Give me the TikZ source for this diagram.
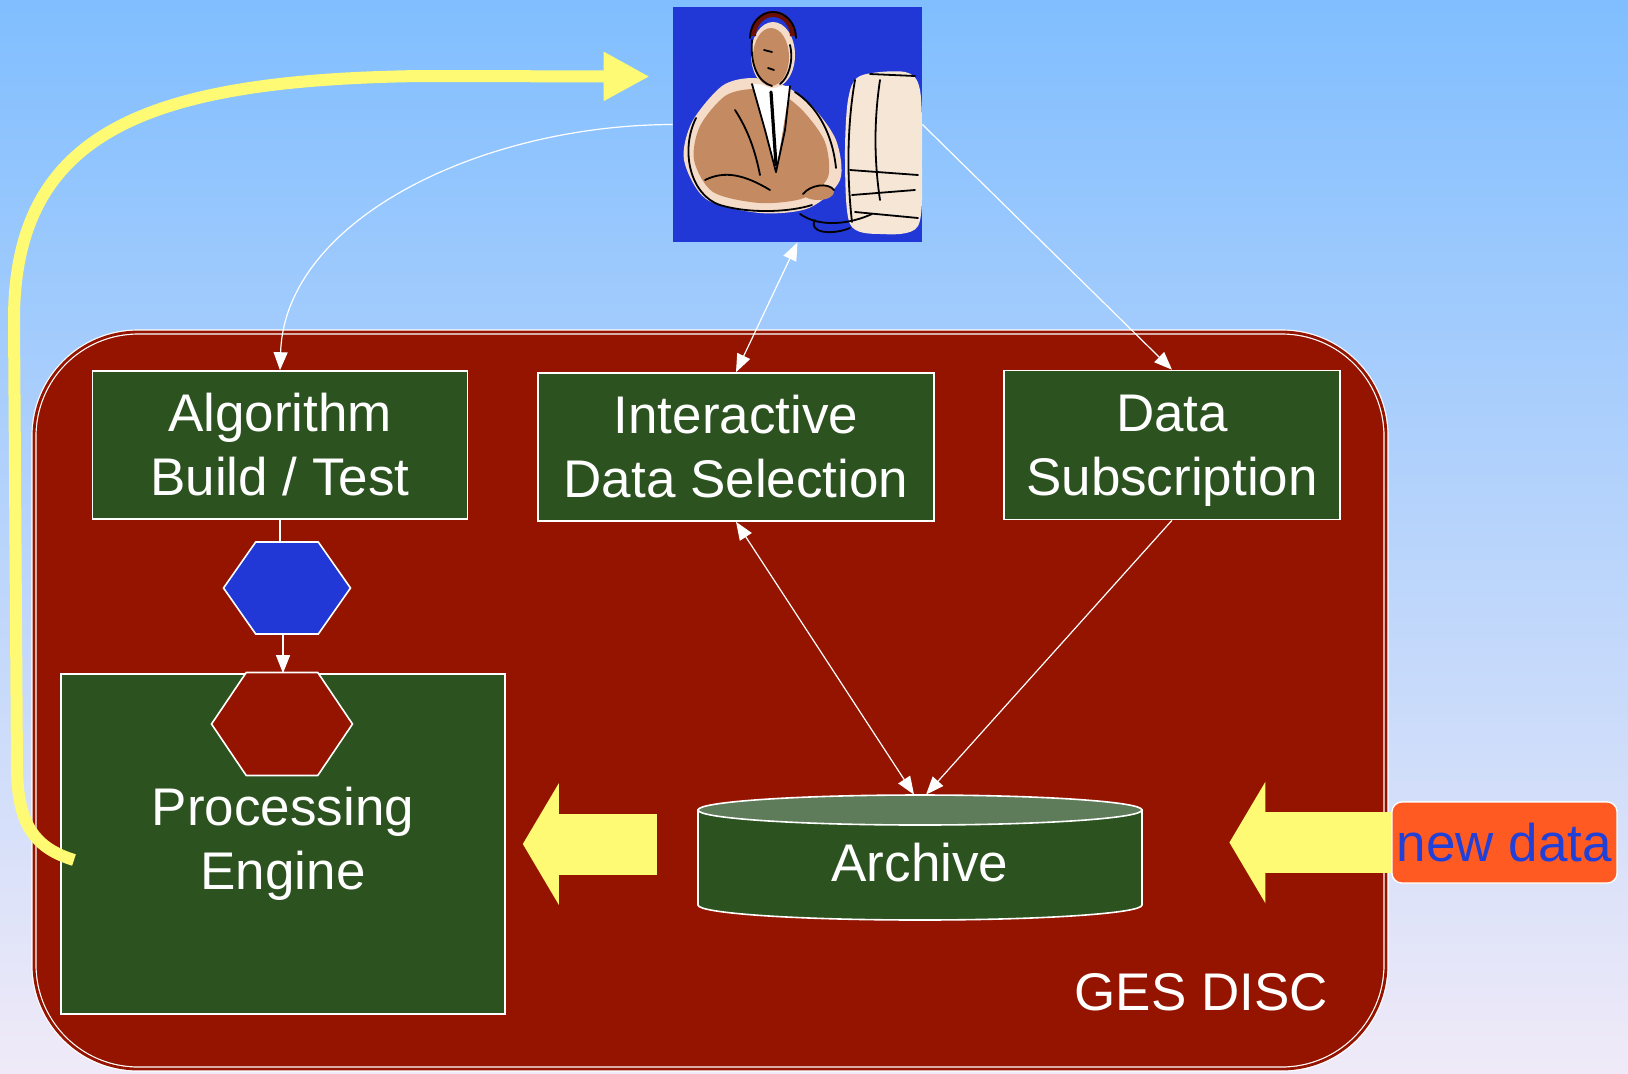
\documentclass[tikz,border=0pt]{standalone}
\usepackage{fontspec}
\setmainfont{Liberation Sans}
\usepackage{tikz}
\usetikzlibrary{shapes.geometric,shapes.symbols,arrows.meta,positioning,calc}
\definecolor{skyblue}{RGB}{128,190,255}
\definecolor{mistlilac}{RGB}{240,234,248}
\definecolor{discred}{HTML}{941400}
\definecolor{boxgreen}{HTML}{2C5220}
\definecolor{lidgreen}{HTML}{5E7C5A}
\definecolor{royalblue}{HTML}{2238D6}
\definecolor{flowyellow}{HTML}{FFFA73}
\definecolor{alertorange}{HTML}{FF5A22}
\definecolor{labelblue}{HTML}{2040D8}
\definecolor{skintan}{HTML}{C48A62}
\definecolor{skinglow}{HTML}{F4DCC8}
\definecolor{screencream}{HTML}{F6E6D6}
\definecolor{hairbrown}{HTML}{6B0F05}

\begin{document}
\begin{tikzpicture}[x=0.5pt,y=-0.5pt,
  big/.style={font=\fontsize{26.5}{32}\selectfont},
  task/.style={rectangle,draw=white,line width=0.8pt,fill=boxgreen,text=white,align=center,big,inner sep=0pt},
  hexa/.style={signal,signal to=east and west,signal pointer angle=110,draw=white,line width=0.8pt,inner sep=0pt},
  link/.style={draw=white,line width=0.6pt,-{Triangle[length=9pt,width=7pt]}},
  link2/.style={draw=white,line width=0.6pt,{Triangle[length=9pt,width=7pt]}-{Triangle[length=9pt,width=7pt]}},
  bigflow/.style={draw=flowyellow,line width=30.5pt,-{Triangle[length=18pt,width=60pt]}},
  loopflow/.style={draw=flowyellow,line width=6pt,-{Triangle[length=23pt,width=23pt]}},
  ink/.style={draw=black,line width=0.9pt,line cap=round}
]
\useasboundingbox (0,0) rectangle (1628,1073);
\shade[top color=skyblue,bottom color=mistlilac] (0,0) rectangle (1628,1073);

% GES DISC area
\node[draw=white,double=discred,double distance=1.4pt,line width=0.6pt,fill=discred,rounded corners=52pt,
  minimum width=676pt,minimum height=368.5pt] (disc) at (710,700.5) {};
\node[text=white,big,anchor=east] (disclabel) at (1335,992) {GES DISC};

\node[task,minimum width=187.5pt,minimum height=74pt] (algo) at (280,445) {Algorithm\\Build / Test};
\node[task,minimum width=198pt,minimum height=74pt] (select) at (736,447) {Interactive\\Data Selection};
\node[task,minimum width=168pt,minimum height=74.5pt] (subs) at (1172,445) {\raisebox{0pt}[\dimexpr\height+6pt]{Data}\\Subscription};
\node[task,minimum width=222pt,minimum height=170pt] (engine) at (283,844) {Processing\\Engine};
\node[hexa,fill=royalblue,minimum width=63.5pt,minimum height=46pt] (job) at (287,588) {};
\node[hexa,fill=discred,minimum width=70.5pt,minimum height=51.5pt,signal pointer angle=112] (cpu) at (282,724) {};

% archive drum
\path[fill=boxgreen,draw=white,line width=0.8pt] (698,810) -- (698,905)
  arc[start angle=180,end angle=0,x radius=222,y radius=15] -- (1142,810) -- cycle;
\draw[fill=lidgreen,draw=white,line width=0.8pt] (920,810) ellipse[x radius=222,y radius=15];
\node[text=white,big,minimum width=222pt,minimum height=68pt,inner sep=0pt] (archive) at (920,863) {Archive};

\node[rectangle,rounded corners=5pt,draw=white,line width=0.6pt,fill=alertorange,text=labelblue,big,
  minimum width=112.5pt,minimum height=40.5pt,inner sep=0pt] (newdata) at (1504.5,842.5) {};
\draw[bigflow] (newdata.west) -- ([xshift=43.5pt]archive.east |- newdata.west);
\node[rectangle,rounded corners=5pt,draw=white,line width=0.6pt,fill=alertorange,text=labelblue,big,
  minimum width=112.5pt,minimum height=40.5pt,inner sep=0pt] at (newdata) {new data};
\draw[bigflow] ([xshift=-20.5pt]archive.west |- engine.east) -- ([xshift=8.5pt]engine.east);

% user at the console
\node[fill=royalblue,minimum width=124.5pt,minimum height=117.5pt,inner sep=0pt] (user) at (797.5,124.5) {};
\begin{scope}
\clip (user.south west) rectangle (user.north east);
\fill[skinglow] plot[smooth cycle] coordinates {(722,86) (692,122) (684,160) (706,199) (760,213) (809,208) (840,180) (836,140) (811,105) (783,85) (752,78)};
\fill[skintan] plot[smooth cycle] coordinates {(725,96) (700,126) (694,160) (713,192) (760,203) (804,198) (828,177) (825,142) (804,112) (781,94) (753,89)};
\fill[white] (752,84) -- (790,86) -- (776,172) -- cycle;
\draw[ink,line width=1.6pt] (771,92) -- (776,165);
\draw[ink] (752,84) -- (765,130) -- (776,172);
\draw[ink] (790,86) -- (785,130) -- (776,172);
\draw[ink] (696,118) .. controls (680,150) and (690,195) .. (720,205);
\draw[ink] (720,205) .. controls (750,214) and (790,212) .. (812,205);
\draw[ink] (795,92) .. controls (815,105) and (832,130) .. (836,168);
\draw[ink] (735,110) .. controls (748,130) and (755,150) .. (760,175);
\draw[ink] (705,180) .. controls (725,170) and (745,175) .. (770,190);
\fill[skinglow] (773,55) ellipse[x radius=22,y radius=33];
\fill[skintan] (771,57) ellipse[x radius=18,y radius=29];
\draw[ink] (752,40) .. controls (750,65) and (758,82) .. (772,86);
\draw[ink] (790,45) .. controls (794,62) and (788,78) .. (780,84);
\draw[ink] (764,50) -- (772,52);
\draw[ink] (768,68) -- (774,70);
\draw[hairbrown,line width=3pt] (753,36) arc[start angle=180,end angle=360,x radius=20,y radius=22];
\draw[ink] (750,38) arc[start angle=180,end angle=360,x radius=23,y radius=26];
\fill[screencream] plot[smooth cycle] coordinates {(860,76) (905,72) (920,90) (922,160) (918,226) (880,234) (850,224) (845,160) (848,100)};
\draw[ink] (855,80) .. controls (848,120) and (846,170) .. (852,222);
\draw[ink] (870,74) -- (915,76);
\draw[ink] (880,80) .. controls (874,120) and (874,160) .. (880,200);
\draw[ink] (850,170) -- (918,175);
\draw[ink] (852,195) -- (915,190);
\draw[ink] (855,212) -- (918,218);
\fill[skintan] (818,192) ellipse[x radius=16,y radius=8];
\draw[ink] (803,194) .. controls (810,185) and (828,182) .. (834,190);
\draw[ink] (800,214) .. controls (820,228) and (850,224) .. (872,214);
\draw[ink] (815,220) .. controls (808,232) and (830,236) .. (850,228);
\end{scope}

% connectors
\draw[link] (user.west) .. controls (480,125) and (285,220) .. (algo.north);
\draw[link2] (user.south) -- (select.north);
\draw[link] (user.east) -- (subs.north);
\draw[link2] (select.south) -- ([xshift=-3pt]archive.north);
\draw[link] (subs.south) -- ([xshift=3pt]archive.north);
\draw[draw=white,line width=0.6pt] (algo.south) -- (algo.south |- job.north);
\draw[link] (engine.north |- job.south) -- (engine.north);

\coordinate (loopstart) at (74,860);
\draw[loopflow] (loopstart) .. controls (35,848) and (18,825) .. (17,770) -- (14,320)
  .. controls (14,130) and (150,80) .. (420,76) -- ([shift={(-23,-48)}]user.west);
\end{tikzpicture}
\end{document}
